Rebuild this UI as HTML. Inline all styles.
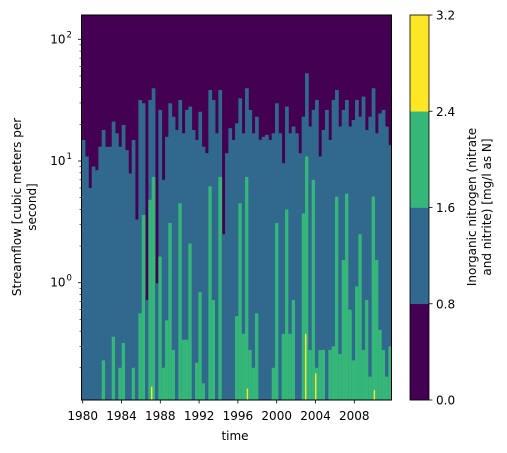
<!DOCTYPE html>
<html><head><meta charset="utf-8"><style>
html,body{margin:0;padding:0;background:#fff;}
svg{display:block;font-family:"DejaVu Sans","Liberation Sans",sans-serif;}
</style></head><body>
<svg id="chart" width="507" height="453" viewBox="0 0 507 453">
<defs><clipPath id="clip"><rect x="81.5" y="15" width="310" height="385"/></clipPath></defs>
<g id="plot" clip-path="url(#clip)"></g>
<rect x="81.5" y="15" width="310" height="385" fill="none" stroke="#000" stroke-width="1"/>
<g id="axes"></g>
<text x="235" y="440" font-size="12" text-anchor="middle">time</text>
<text transform="translate(21,207) rotate(-90)" font-size="12" text-anchor="middle"><tspan x="0" dy="0">Streamflow [cubic meters per</tspan><tspan x="0" dy="15">second]</tspan></text>
<g id="cbar"></g>
<text transform="translate(476,207) rotate(-90)" font-size="12" text-anchor="middle"><tspan x="0" dy="0">Inorganic nitrogen (nitrate</tspan><tspan x="0" dy="15">and nitrite) [mg/l as N]</tspan></text>
</svg>
<script>
const startYear = 1980.07;
const stepYears = 0.3436;
const purpleBoundary = [14.9,10.9,6.0,9.0,8.4,13.1,18.0,13.1,13.1,21.1,16.9,13.1,19.8,12.3,7.9,14.9,3.3,31.7,29.8,0.72,31.7,39.6,0.99,26.3,7.0,15.8,29.8,23.1,18.0,31.7,16.9,26.3,28.0,18.0,14.9,25.4,13.1,11.6,38.3,31.7,16.9,38.3,2.5,11.6,18.6,14.9,20.4,32.7,16.9,39.6,26.3,16.9,23.1,14.9,15.8,16.4,14.9,16.9,29.8,16.9,9.6,28.0,16.9,19.2,16.9,11.6,23.1,52.6,19.2,26.3,31.7,10.9,18.0,26.3,14.9,31.7,38.3,19.2,26.3,31.7,19.2,21.7,31.7,23.1,33.8,18.0,23.1,39.6,16.9,24.6,26.3,19.2,13.5];
const greenBoundary = [0,0,0,0,0,0,0.23,0,0,0.36,0,0.20,0.32,0,0,0.20,0,0.56,3.6,0,4.8,7.4,0,1.64,0.20,0.49,3.1,0.28,0,4.5,0.34,0.34,2.1,0,0.22,0.84,0.149,0,6.2,0.72,0,7.4,0,0,0,0,0.53,4.5,0.38,7.4,0.28,0.20,0.56,0,0,0,0,0.20,3.1,0,0.38,4.0,0.38,0.72,0,0,3.7,10.9,0.28,7.0,0.20,0.28,0.28,0,0.28,0.30,5.1,0.26,1.54,5.4,0.60,0.23,0.93,2.5,0.28,0.72,0.169,5.1,1.54,0.41,0.28,0.169,0.30];
const yellowYears = [1987.11,1996.98,2002.99,2004.02,2010.07];
const yellowBoundary = [0.14,0.135,0.38,0.18,0.131];
const xTickYears = [1980,1984,1988,1992,1996,2000,2004,2008];
const yTickExps = [0,1,2];
const cbarLevels = [0.0,0.8,1.6,2.4,3.2];
const cbarColors = ["#440154","#31688e","#35b779","#fde725"];

const NS = "http://www.w3.org/2000/svg";
const X0 = 81.5, X1 = 391.5, Y0 = 15, Y1 = 400;
function xScale(t){ return 82.7 + (t - 1980) * 9.70; }
function yScale(f){ return 282.7 - 121.7 * Math.log10(f); }
function mk(tag, attrs, parent){ const e = document.createElementNS(NS, tag); for (const k in attrs) e.setAttribute(k, attrs[k]); parent.appendChild(e); return e; }

const plot = document.getElementById('plot');
const bg = mk('rect', {x:X0, y:Y0, width:X1-X0, height:Y1-Y0, fill:"#440154"}, plot);


for (let i = 0; i < purpleBoundary.length; i++) {
  const t = startYear + i * stepYears;
  let xa = xScale(t - stepYears/2), xb = xScale(t + stepYears/2);
  if (i === 0) xa = X0;
  if (i === purpleBoundary.length - 1) xb = X1;
  const yt = yScale(purpleBoundary[i]);
  const b = mk('rect', {x:xa, y:yt, width:xb-xa+0.4, height:Y1-yt, fill:"#31688e"}, plot);
  
  
  if (greenBoundary[i] > 0) {
    const yg = yScale(greenBoundary[i]);
    const g = mk('rect', {x:xa, y:yg, width:xb-xa+0.4, height:Y1-yg, fill:"#35b779"}, plot);
    
    
  }
}
for (let i = 0; i < yellowYears.length; i++) {
  const xa = xScale(yellowYears[i] - 0.07);
  const yy = yScale(yellowBoundary[i]);
  const r = mk('rect', {x:xa, y:yy, width:1.4, height:Y1-yy, fill:"#fde725"}, plot);
  
  
}

const axes = document.getElementById('axes');
for (const yr of xTickYears) {
  const x = xScale(yr);
  const tk = mk('line', {x1:x, x2:x, y1:Y1, y2:Y1+3.5, stroke:"#000", "stroke-width":0.8}, axes);
  
  
  const lb = mk('text', {x:x, y:Y1+20, "font-size":12, "text-anchor":"middle"}, axes);
  lb.textContent = String(yr);
  
  
}
for (const e of yTickExps) {
  const y = yScale(Math.pow(10, e));
  const tk = mk('line', {x1:X0-3.5, x2:X0, y1:y, y2:y, stroke:"#000", "stroke-width":0.8}, axes);
  
  
  const lb = mk('text', {x:X0-16, y:y+4, "font-size":12, "text-anchor":"end"}, axes);
  lb.textContent = "10";
  
  
  const sp = mk('text', {x:X0-15, y:y-2, "font-size":8.5, "text-anchor":"start"}, axes);
  sp.textContent = String(e);
  
  
}
for (let e = -1; e <= 2; e++) {
  for (let m = 2; m <= 9; m++) {
    const y = yScale(m * Math.pow(10, e));
    if (y < Y0 || y > Y1) continue;
    const tk = mk('line', {x1:X0-2, x2:X0, y1:y, y2:y, stroke:"#000", "stroke-width":0.6}, axes);
    
    
  }
}

const cbar = document.getElementById('cbar');
const CX = 410, CW = 19;
function cScale(v){ return Y1 - (v - cbarLevels[0]) / (cbarLevels[cbarLevels.length-1] - cbarLevels[0]) * (Y1 - Y0); }
for (let i = 0; i < cbarColors.length; i++) {
  const ya = cScale(cbarLevels[i+1]), yb = cScale(cbarLevels[i]);
  const r = mk('rect', {x:CX, y:ya, width:CW, height:yb-ya+0.3, fill:cbarColors[i]}, cbar);
  
  
}
const cf = mk('rect', {x:CX, y:Y0, width:CW, height:Y1-Y0, fill:"none", stroke:"#000", "stroke-width":0.8}, cbar);


for (const v of cbarLevels) {
  const y = cScale(v);
  const tk = mk('line', {x1:CX+CW, x2:CX+CW+3.5, y1:y, y2:y, stroke:"#000", "stroke-width":0.8}, cbar);
  
  
  const lb = mk('text', {x:CX+CW+7, y:y+4.5, "font-size":12}, cbar);
  lb.textContent = v.toFixed(1);
  
  
}
</script>
</body></html>
